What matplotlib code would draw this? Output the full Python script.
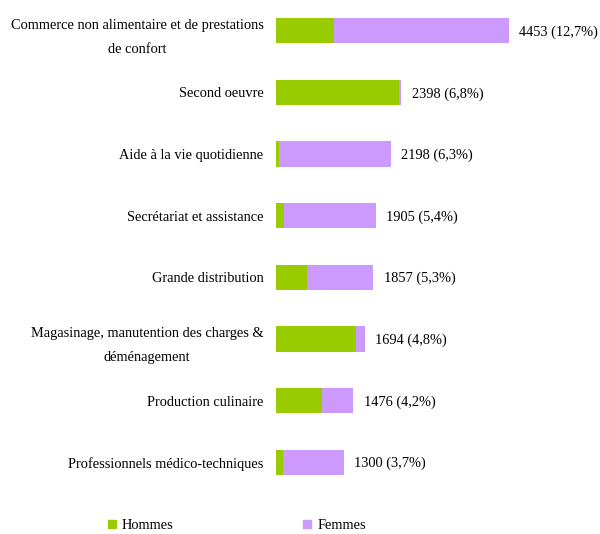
import matplotlib
matplotlib.use("Agg")
import matplotlib.pyplot as plt
from matplotlib.patches import Patch

plt.rcParams['font.family'] = ['Liberation Serif', 'DejaVu Serif']

categories = [
    "Commerce non alimentaire et de prestations\nde confort",
    "Second oeuvre",
    "Aide à la vie quotidienne",
    "Secrétariat et assistance",
    "Grande distribution",
    "Magasinage, manutention des charges &\ndéménagement",
    "Production culinaire",
    "Professionnels médico-techniques",
]
totals = [4453, 2398, 2198, 1905, 1857, 1694, 1476, 1300]
pcts = ["12,7%", "6,8%", "6,3%", "5,4%", "5,3%", "4,8%", "4,2%", "3,7%"]
hommes = [1110, 2350, 60, 150, 590, 1530, 870, 135]
femmes = [t - h for t, h in zip(totals, hommes)]

GREEN = "#99cc00"
PURPLE = "#cc99ff"
FS = 10.4

fig = plt.figure(figsize=(6.0, 5.34), dpi=100)
ax = fig.add_axes([276 / 600, 1 - 493 / 534, 320 / 600, 493 / 534])

y = list(range(len(categories)))
ax.barh(y, hommes, height=0.41, color=GREEN)
ax.barh(y, femmes, left=hommes, height=0.41, color=PURPLE)

for yi, t, p in zip(y, totals, pcts):
    ax.annotate(f"{t} ({p})", (t, yi), xytext=(7.5, -1), textcoords="offset points",
                va="center", ha="left", fontsize=FS)

ax.set_xlim(0, 320 / 0.05233)
ax.set_ylim(len(categories) - 0.5, -0.5)
ax.set_yticks(y)
ax.set_yticklabels(categories, fontsize=FS, multialignment="center", linespacing=2.05)
ax.tick_params(axis="y", length=0, pad=9)
ax.set_xticks([])
for s in ax.spines.values():
    s.set_visible(False)

handles = [Patch(color=GREEN, label="Hommes"), Patch(color=PURPLE, label="Femmes")]
fig.legend(handles=handles, loc="lower left", bbox_to_anchor=(108 / 600, 2 / 534),
           ncol=2, frameon=False, fontsize=FS, handlelength=0.55, handleheight=0.55,
           handletextpad=0.4, columnspacing=9.0, borderpad=0, borderaxespad=0)

fig.savefig("out.png", dpi=100)
